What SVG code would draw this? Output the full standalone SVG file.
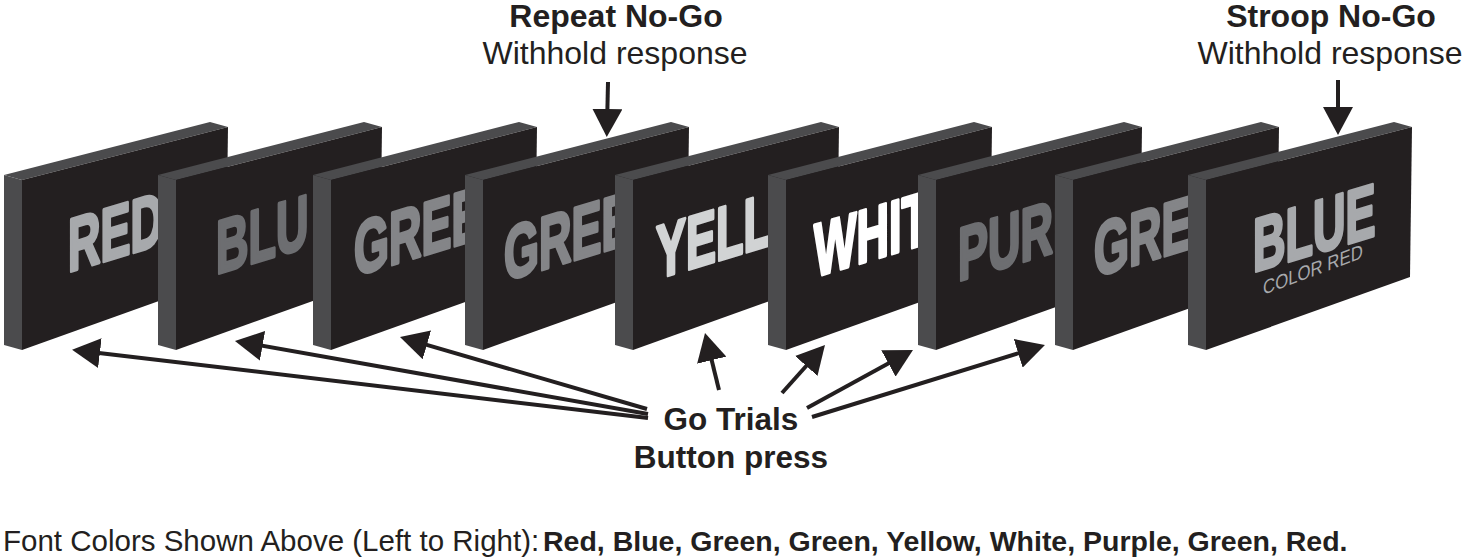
<svg xmlns="http://www.w3.org/2000/svg" width="1465" height="558" viewBox="0 0 1465 558">
<style>
.side{fill:#4b4b4d}
.front{fill:#231f20}
.word{font-family:"Liberation Sans",Arial,sans-serif;font-weight:bold;font-size:75px;fill:currentColor;stroke:currentColor;stroke-width:3;stroke-linejoin:round;vector-effect:non-scaling-stroke}
.lbl{font-family:"Liberation Sans",Arial,sans-serif;fill:#231f20}
.b{font-weight:bold}
.conn{stroke:#231f20;stroke-width:4;fill:none;marker-end:url(#ah)}
</style>
<defs>
<marker id="ah" viewBox="0 0 28 30" refX="18" refY="15" markerUnits="userSpaceOnUse" markerWidth="28" markerHeight="30" orient="auto">
<path d="M0,0 L28,15 L0,30 Z" fill="#231f20"/>
</marker>
<g id="card">
<path class="side" d="M0,0 L206,-53 L224,-48 L18,5 Z"/>
<path class="side" d="M0,0 L18,5 L18,175 L0,170 Z"/>
<path class="front" d="M18,5 L224,-48 L222,102 L18,175 Z"/>
</g>
</defs>

<g id="card1"><use href="#card" x="4" y="175"/>
<text class="word" color="#a7a9ac" transform="translate(68,272) skewY(-16.7) scale(0.6,1)">RED</text></g>
<g id="card2"><use href="#card" x="158" y="175"/>
<text class="word" color="#6d6e71" transform="translate(216,274) skewY(-16.7) scale(0.6,1)">BLU</text></g>
<g id="card3"><use href="#card" x="313" y="175"/>
<text class="word" color="#848588" transform="translate(354,276) skewY(-16.7) scale(0.6,1)">GREE</text></g>
<g id="card4"><use href="#card" x="465" y="175"/>
<text class="word" color="#848588" transform="translate(504,281) skewY(-16.7) scale(0.6,1)">GREE</text></g>
<g id="card5"><use href="#card" x="615" y="175"/>
<text class="word" color="#d1d3d4" transform="translate(656,279) skewY(-16.7) scale(0.6,1)">YELLO</text></g>
<g id="card6"><use href="#card" x="768" y="175"/>
<text class="word" color="#ffffff" transform="translate(814,277) skewY(-16.7) scale(0.6,1)">WHIT</text></g>
<g id="card7"><use href="#card" x="918" y="175"/>
<text class="word" color="#6d6e71" transform="translate(958,281) skewY(-16.7) scale(0.6,1)">PURP</text></g>
<g id="card8"><use href="#card" x="1055" y="175"/>
<text class="word" color="#848588" transform="translate(1094,277) skewY(-16.7) scale(0.6,1)">GRE</text></g>
<g id="card9"><use href="#card" x="1188" y="175"/>
<text class="word" color="#a7a9ac" transform="translate(1253,272) skewY(-16.7) scale(0.6,1)">BLUE</text>
<text fill="#a7a9ac" font-family="Liberation Sans, Arial, sans-serif" font-size="20" transform="translate(1263,295) skewY(-20.5) scale(0.84,1)">COLOR RED</text></g>

<g id="connectors">
<path class="conn" d="M648,418 L82,351"/>
<path class="conn" d="M648,414 L244.8,342.7"/>
<path class="conn" d="M647,409 L409.6,339.8"/>
<path class="conn" d="M719,390 L707.4,342.7"/>
<path class="conn" d="M782,393 L818.3,352.5"/>
<path class="conn" d="M807,408 L904.2,354.8"/>
<path class="conn" d="M812,417 L1035.4,348"/>
<path class="conn" d="M608,82 L607,127"/>
<path class="conn" d="M1338,80 L1338,125"/>
</g>

<g id="label-repeat" class="lbl" text-anchor="middle">
<text x="616" y="27" font-size="32" class="b">Repeat No-Go</text>
<text x="615" y="64" font-size="32">Withhold response</text>
</g>
<g id="label-stroop" class="lbl" text-anchor="middle">
<text x="1331" y="27" font-size="32" class="b">Stroop No-Go</text>
<text x="1330" y="64" font-size="32">Withhold response</text>
</g>
<g id="label-go" class="lbl b" text-anchor="middle">
<text x="731" y="430" font-size="31.5">Go Trials</text>
<text x="731" y="468" font-size="31.5">Button press</text>
</g>
<g id="caption" class="lbl">
<text x="3" y="551" font-size="29.5">Font Colors Shown Above (Left to Right): <tspan x="543" font-size="28.5" class="b">Red, Blue, Green, Green, Yellow, White, Purple, Green, Red.</tspan></text>
</g>
</svg>
